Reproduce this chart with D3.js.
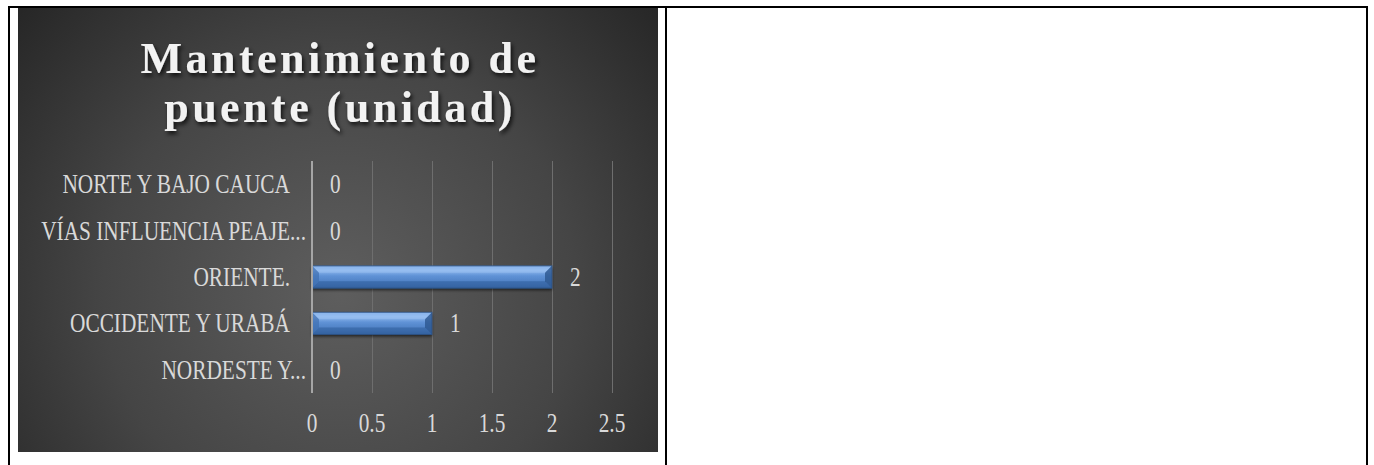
<!DOCTYPE html>
<html>
<head>
<meta charset="utf-8">
<script src="https://cdn.jsdelivr.net/npm/d3@7/dist/d3.min.js"></script>
<style>
  html, body { margin: 0; padding: 0; background: #ffffff; }
  svg { display: block; }
</style>
</head>
<body>
<svg id="chart" width="1374" height="465"></svg>
<script>
// ---- data ----
const categories = ["NORDESTE Y...", "OCCIDENTE Y URABÁ", "ORIENTE.", "VÍAS INFLUENCIA PEAJE...", "NORTE Y BAJO CAUCA"];
const values = [0, 1, 2, 0, 0];
const xTicks = [0, 0.5, 1, 1.5, 2, 2.5];
const titleLines = ["Mantenimiento de", "puente (unidad)"];

const svg = d3.select("#chart");
const defs = svg.append("defs");

// background radial gradient
const bg = defs.append("radialGradient").attr("id", "bgGrad")
  .attr("gradientUnits", "userSpaceOnUse")
  .attr("cx", 340).attr("cy", 290).attr("r", 430);
bg.append("stop").attr("offset", "0%").attr("stop-color", "#5e5e5e");
bg.append("stop").attr("offset", "55%").attr("stop-color", "#454545");
bg.append("stop").attr("offset", "100%").attr("stop-color", "#262626");

// bar gradient
const bgBar = defs.append("linearGradient").attr("id", "barGrad")
  .attr("x1", 0).attr("y1", 0).attr("x2", 0).attr("y2", 1);
bgBar.append("stop").attr("offset", "0%").attr("stop-color", "#6f9fe0");
bgBar.append("stop").attr("offset", "20%").attr("stop-color", "#8fb8ee");
bgBar.append("stop").attr("offset", "45%").attr("stop-color", "#5f92d6");
bgBar.append("stop").attr("offset", "80%").attr("stop-color", "#4a7cc0");
bgBar.append("stop").attr("offset", "100%").attr("stop-color", "#3a68a6");

const shadow = defs.append("filter").attr("id", "tshadow")
  .attr("x", "-10%").attr("y", "-20%").attr("width", "120%").attr("height", "150%");
shadow.append("feDropShadow").attr("dx", 2).attr("dy", 3).attr("stdDeviation", 2)
  .attr("flood-color", "#000").attr("flood-opacity", 0.75);

const barShadow = defs.append("filter").attr("id", "bshadow")
  .attr("x", "-5%").attr("y", "-20%").attr("width", "110%").attr("height", "160%");
barShadow.append("feDropShadow").attr("dx", 0).attr("dy", 2).attr("stdDeviation", 1.5)
  .attr("flood-color", "#000").attr("flood-opacity", 0.6);

// chart background
const cx0 = 18, cy0 = 8, cw = 640, ch = 444;
svg.append("rect").attr("x", cx0).attr("y", cy0).attr("width", cw).attr("height", ch)
  .attr("fill", "url(#bgGrad)");

// scales
const plot = { left: 312, right: 612, top: 161, bottom: 393 };
const x = d3.scaleLinear().domain([0, 2.5]).range([plot.left, plot.right]);
const y = d3.scaleBand().domain(categories.slice().reverse()).range([plot.top, plot.bottom]).paddingInner(0.52).paddingOuter(0.26);

const serif = "'Liberation Serif', 'DejaVu Serif', serif";
const sx = 0.79;
const fs = 27;

// gridlines
const grid = svg.append("g")
  .attr("transform", `translate(0,${plot.bottom})`)
  .call(d3.axisBottom(x).tickValues(xTicks).tickSize(-(plot.bottom - plot.top)).tickFormat(""));
grid.select(".domain").remove();
grid.selectAll(".tick line").attr("stroke", "#6e6e6e").attr("stroke-width", 1);
grid.selectAll(".tick").filter(d => d === 0).remove();

// tick labels
const tickG = svg.append("g");
tickG.selectAll("text").data(xTicks).join("text")
  .attr("transform", d => `translate(${x(d)},432) scale(${sx},1)`)
  .attr("text-anchor", "middle")
  .attr("font-family", serif).attr("font-size", fs)
  .attr("fill", "#d9d9d9")
  .text(d => d);

// bars
const barG = svg.append("g");
const bev = 7;
categories.forEach((c, i) => {
  const v = values[i];
  if (v <= 0) return;
  const x0 = x(0), x1 = x(v), y0 = y(c), h = y.bandwidth();
  const g = barG.append("g");
  g.append("rect").attr("x", x0).attr("y", y0).attr("width", x1 - x0).attr("height", h)
    .attr("fill", "url(#barGrad)").attr("filter", "url(#bshadow)");
  g.append("polygon").attr("points", `${x0},${y0} ${x1},${y0} ${x1 - bev},${y0 + bev} ${x0 + bev},${y0 + bev}`)
    .attr("fill", "#9cc2f2").attr("opacity", 0.55);
  g.append("polygon").attr("points", `${x0},${y0 + h} ${x1},${y0 + h} ${x1 - bev},${y0 + h - bev} ${x0 + bev},${y0 + h - bev}`)
    .attr("fill", "#2f5d9a").attr("opacity", 0.55);
  g.append("polygon").attr("points", `${x0},${y0} ${x0 + bev},${y0 + bev} ${x0 + bev},${y0 + h - bev} ${x0},${y0 + h}`)
    .attr("fill", "#3f6fb0").attr("opacity", 0.7);
  g.append("polygon").attr("points", `${x1},${y0} ${x1 - bev},${y0 + bev} ${x1 - bev},${y0 + h - bev} ${x1},${y0 + h}`)
    .attr("fill", "#2c568f").attr("opacity", 0.8);
  g.append("rect").attr("x", x0).attr("y", y0).attr("width", x1 - x0).attr("height", h)
    .attr("fill", "none").attr("stroke", "#2a4f80").attr("stroke-width", 1).attr("opacity", 0.8);
});

// zero axis line
svg.append("line").attr("x1", x(0)).attr("x2", x(0))
  .attr("y1", plot.top).attr("y2", plot.bottom)
  .attr("stroke", "#a6a6a6").attr("stroke-width", 2);

// category labels (truncated labels let the ellipsis run past the alignment edge)
const ellW = fs * 0.75 * sx;
svg.append("g").selectAll("text").data(categories).join("text")
  .attr("transform", d => `translate(${x(0) - 22 + (d.endsWith("...") ? ellW : 0)},${y(d) + y.bandwidth() / 2 + 9}) scale(${sx},1)`)
  .attr("text-anchor", "end")
  .attr("font-family", serif).attr("font-size", fs)
  .attr("fill", "#d9d9d9")
  .text(d => d);

// data labels
svg.append("g").selectAll("text").data(categories).join("text")
  .attr("transform", (d, i) => `translate(${x(values[i]) + 18},${y(d) + y.bandwidth() / 2 + 9}) scale(${sx},1)`)
  .attr("text-anchor", "start")
  .attr("font-family", serif).attr("font-size", fs)
  .attr("fill", "#d9d9d9")
  .text((d, i) => values[i]);

// title
svg.append("g").selectAll("text").data(titleLines).join("text")
  .attr("transform", (d, i) => `translate(${cx0 + cw / 2 + 2},${73 + i * 49}) scale(0.98,1)`)
  .attr("text-anchor", "middle")
  .attr("font-family", serif).attr("font-size", 45).attr("font-weight", "bold")
  .attr("letter-spacing", 3.5)
  .attr("fill", "#f2f2f2").attr("filter", "url(#tshadow)")
  .text(d => d);

// table borders
const border = svg.append("g").attr("stroke", "#000").attr("stroke-width", 2);
border.append("line").attr("x1", 8).attr("x2", 1368).attr("y1", 7).attr("y2", 7);
border.append("line").attr("x1", 9).attr("x2", 9).attr("y1", 6).attr("y2", 465);
border.append("line").attr("x1", 666).attr("x2", 666).attr("y1", 6).attr("y2", 465);
border.append("line").attr("x1", 1367).attr("x2", 1367).attr("y1", 6).attr("y2", 465);
</script>
</body>
</html>
